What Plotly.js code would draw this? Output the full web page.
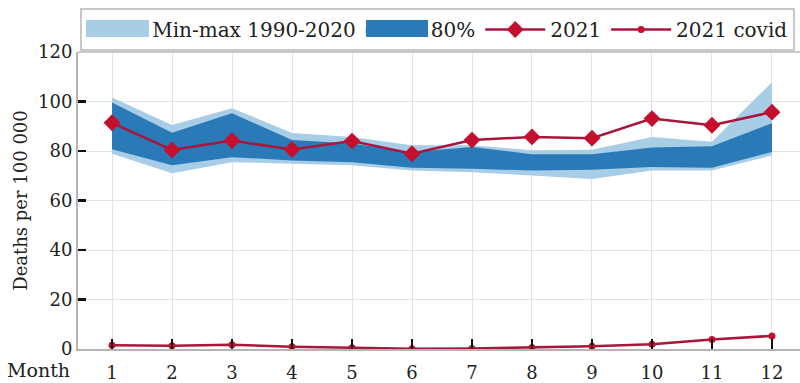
<!DOCTYPE html>
<html>
<head>
<meta charset="utf-8">
<script src="https://cdn.plot.ly/plotly-3.0.1.min.js"></script>
<style>html,body{margin:0;padding:0;background:#fff;}#chart{width:800px;height:383px;}</style>
</head>
<body>
<div id="chart"></div>
<script>
var months = [1,2,3,4,5,6,7,8,9,10,11,12];
var minVals = [78.9,71.0,75.5,74.9,74.2,72.1,71.4,70.1,68.7,72.1,72.1,78.2];
var maxVals = [101.6,90.5,97.3,87.3,85.7,82.3,82.3,80.3,80.5,85.7,83.7,107.8];
var p10Vals = [80.7,74.2,77.5,76.2,75.5,73.2,72.8,72.1,72.4,73.5,73.2,79.6];
var p90Vals = [99.6,87.4,95.3,84.4,83.0,79.6,81.6,78.7,78.7,81.4,81.9,91.2];
var deaths2021 = [91.4,80.4,84.2,80.6,84.0,78.9,84.4,85.7,85.2,93.1,90.4,95.7];
var covid2021 = [1.5,1.3,1.7,0.9,0.5,0.1,0.2,0.6,1.1,1.9,3.8,5.3];
var yTicks = [0,20,40,60,80,100,120];

var lightBlue = '#a8cde6';
var darkBlue = '#2a7ab8';
var lineRed = '#a8163e';
var markRed = '#c4102e';
var serif = 'DejaVu Serif, Liberation Serif, serif';

var traces = [
  {x: months, y: minVals, mode: 'lines', line: {width: 0, color: lightBlue}, showlegend: false, hoverinfo: 'skip'},
  {x: months, y: maxVals, mode: 'lines', line: {width: 0, color: lightBlue}, fill: 'tonexty', fillcolor: lightBlue, name: 'Min-max 1990-2020'},
  {x: months, y: p10Vals, mode: 'lines', line: {width: 0, color: darkBlue}, showlegend: false, hoverinfo: 'skip'},
  {x: months, y: p90Vals, mode: 'lines', line: {width: 0, color: darkBlue}, fill: 'tonexty', fillcolor: darkBlue, name: '80%'},
  {x: months, y: deaths2021, mode: 'lines+markers', line: {width: 2.5, color: lineRed}, marker: {symbol: 'diamond', size: 13, color: markRed}, name: '2021'},
  {x: months, y: covid2021, mode: 'lines+markers', line: {width: 2.5, color: lineRed}, marker: {symbol: 'circle', size: 7, color: markRed}, name: '2021 covid'}
];

// legend patch rectangles (paper coords) to give the fill swatches their block shape
var swatchY = [1.0505, 1.1077];

var layout = {
  width: 800, height: 383,
  margin: {l: 78, r: 0, t: 52, b: 34},
  paper_bgcolor: '#fff', plot_bgcolor: '#fff',
  font: {family: serif, size: 18, color: '#222'},
  showlegend: true,
  legend: {
    orientation: 'h', x: 0.003, xanchor: 'left', y: 1.148, yanchor: 'top',
    bordercolor: '#c8c8c8', borderwidth: 2, bgcolor: 'rgba(0,0,0,0)',
    font: {family: serif, size: 20, color: '#222'},
    itemwidth: 60, traceorder: 'normal'
  },
  xaxis: {
    range: [0.433, 12.467], tickvals: months, ticktext: months.map(String),
    showgrid: true, gridcolor: '#e2e2e2', gridwidth: 1,
    showline: true, linecolor: '#b4b4b4', linewidth: 2,
    ticks: 'inside', ticklen: 10, tickwidth: 2.5, tickcolor: '#111',
    ticklabelstandoff: 6,
    zeroline: false, fixedrange: true
  },
  yaxis: {
    range: [0, 120], tickvals: yTicks,
    showgrid: true, gridcolor: '#e2e2e2', gridwidth: 1,
    showline: true, linecolor: '#b4b4b4', linewidth: 2,
    ticks: 'inside', ticklen: 8, tickwidth: 2.5, tickcolor: '#111',
    zeroline: false, fixedrange: true,
    title: {text: 'Deaths per 100 000', font: {family: serif, size: 18, color: '#222'}, standoff: 6}
  },
  shapes: [
    {type: 'line', xref: 'paper', yref: 'paper', x0: 0, x1: 1, y0: 1, y1: 1, line: {color: '#c8c8c8', width: 2}},
    {type: 'rect', xref: 'paper', yref: 'paper', x0: 0.011, x1: 0.0983, y0: swatchY[0], y1: swatchY[1], fillcolor: lightBlue, line: {width: 0}},
    {type: 'rect', xref: 'paper', yref: 'paper', x0: 0.399, x1: 0.4848, y0: swatchY[0], y1: swatchY[1], fillcolor: darkBlue, line: {width: 0}}
  ],
  annotations: [
    {text: 'Month', xref: 'paper', yref: 'paper', x: -0.008, y: -0.072, xanchor: 'right', yanchor: 'middle', showarrow: false, font: {family: serif, size: 19, color: '#222'}}
  ]
};

Plotly.newPlot('chart', traces, layout, {displayModeBar: false, staticPlot: true});
</script>
</body>
</html>
